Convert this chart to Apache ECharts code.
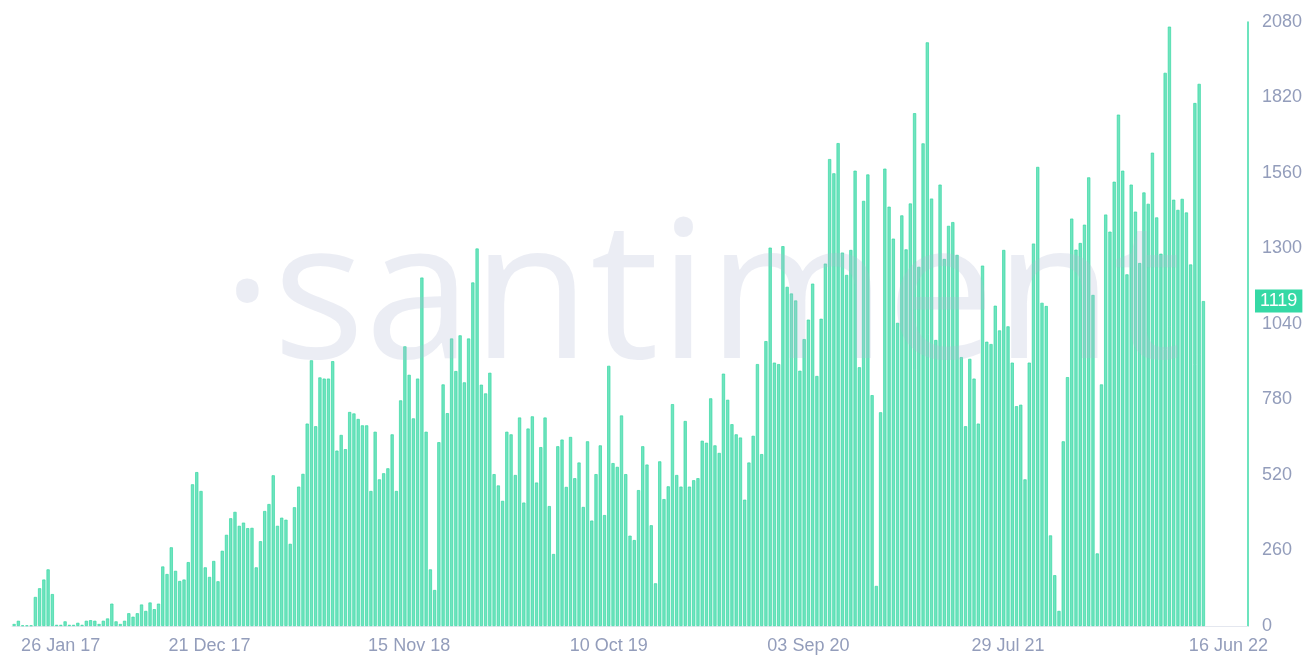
<!DOCTYPE html>
<html><head><meta charset="utf-8">
<script src="https://cdn.jsdelivr.net/npm/echarts@6/dist/echarts.min.js"></script>
<style>html,body{margin:0;padding:0;background:#fff}#c{width:1306px;height:655px}</style>
</head><body><div id="c"></div>
<script>
// weekly bars, first bar week of 02 Feb 2017
const firstWeekUTC = Date.UTC(2017, 1, 2);
const axisStartLabel = '26 Jan 17';
const tickLabels = ['21 Dec 17', '15 Nov 18', '10 Oct 19', '03 Sep 20', '29 Jul 21', '16 Jun 22'];
const yMin = 0, yMax = 2080, yStep = 260;
const lastValue = 1119;
const padWeeks = 10;

const values2017 = [7,18,2,2,2,100,130,160,195,110,4,4,16,4,4,11,4,18,20,18,7,18,26,77,16,7,18,44,32,44,74,52,81,58,77,205,179,271,190,155,160,220,488,530,465,202,169,224,154];
const values2018 = [259,314,371,393,345,356,337,338,202,292,396,420,519,345,373,366,283,409,480,524,697,915,688,856,852,852,912,604,658,609,737,732,713,691,691,465,669,505,526,543,660,465,777,963,865,715,852,1200,669,195];
const values2019 = [124,633,832,733,990,878,1001,839,990,1183,1300,831,801,872,523,484,431,669,660,520,718,425,680,722,494,616,718,413,248,619,642,479,651,509,563,410,636,363,523,622,382,896,561,548,725,523,311,296,468];
const values2020 = [619,556,347,147,567,437,481,764,520,480,706,480,502,509,638,631,784,622,596,869,779,695,660,649,435,563,655,902,592,981,1303,907,902,1308,1168,1145,1121,879,988,1055,1179,861,1058,1248,1608,1559,1663,1286,1209,1295];
const values2021 = [1568,891,1464,1555,795,138,736,1575,1444,1334,1044,1414,1297,1455,1766,1237,1662,2010,1472,985,1520,1264,1378,1391,1278,926,688,920,852,697,1241,979,971,1103,1018,1295,1032,907,757,762,505,907,1317,1581,1113,1102,312,175,52];
const values2022 = [636,857,1403,1296,1319,1382,1545,1140,250,832,1417,1358,1530,1761,1568,1211,1520,1427,1250,1493,1454,1630,1407,1282,1905,2064,1468,1433,1471,1424,1245,1801,1867,1119];

const values = [].concat(values2017, values2018, values2019, values2020, values2021, values2022);
const MONTHS = ['Jan','Feb','Mar','Apr','May','Jun','Jul','Aug','Sep','Oct','Nov','Dec'];
function fmt(t) {
  const d = new Date(t);
  const dd = String(d.getUTCDate()).padStart(2, '0');
  return dd + ' ' + MONTHS[d.getUTCMonth()] + ' ' + String(d.getUTCFullYear()).slice(2);
}
const categories = values.map((v, i) => fmt(firstWeekUTC + i * 7 * 864e5));
for (let k = 0; k < padWeeks; k++) categories.push('pad' + k);
const seriesData = values.slice();
for (let k = 0; k < padWeeks; k++) seriesData.push('-');
const lastIdx = values.length - 1;

const chart = echarts.init(document.getElementById('c'), null, {renderer: 'canvas'});
const labelColor = '#939dbb';
const FONT = 'Liberation Sans, Arial, sans-serif';
chart.setOption({
  animation: false,
  backgroundColor: '#ffffff',
  grid: {left: 12, right: 58, top: 22, bottom: 28, containLabel: false},
  xAxis: {
    type: 'category',
    data: categories,
    boundaryGap: true,
    axisLine: {show: true, lineStyle: {color: '#e4e7ef', width: 1}},
    axisTick: {show: false},
    axisLabel: {
      show: true,
      interval: (idx, val) => idx === 0 || tickLabels.indexOf(val) >= 0,
      formatter: (val, idx) => idx === 0 ? '{first|' + axisStartLabel + '}' : (idx === lastIdx ? '{last|' + val + '}' : val),
      color: labelColor,
      fontSize: 18,
      fontFamily: FONT,
      margin: 11,
      alignMinLabel: 'left',
      hideOverlap: false,
      rich: {
        first: {color: labelColor, fontSize: 18, fontFamily: FONT, padding: [0, 0, 0, 7]},
        last: {color: labelColor, fontSize: 18, fontFamily: FONT, padding: [0, 0, 0, 50]}
      }
    },
    splitLine: {show: false}
  },
  yAxis: {
    type: 'value',
    position: 'right',
    min: yMin, max: yMax, interval: yStep,
    axisLine: {show: true, lineStyle: {color: '#3ddba8', width: 1.5}},
    axisTick: {show: false},
    splitLine: {show: false},
    axisLabel: {color: labelColor, fontSize: 18, fontFamily: FONT, margin: 14, formatter: v => String(v)}
  },
  graphic: [{
    type: 'text',
    z: 100,
    silent: true,
    style: {
      x: 222, y: 303,
      text: '\u00b7santiment',
      fontSize: 193,
      fontFamily: 'Open Sans, Lato, sans-serif',
      fontWeight: 400,
      fill: 'rgba(175,185,212,0.25)',
      verticalAlign: 'middle'
    }
  }],
  series: [{
    type: 'bar',
    data: seriesData,
    barCategoryGap: '25%',
    itemStyle: {color: '#70e4bf', borderColor: '#36d9a4', borderWidth: 0.7},
    markLine: {
      silent: true,
      symbol: 'none',
      lineStyle: {color: 'rgba(0,0,0,0)', width: 0},
      data: [{yAxis: lastValue}],
      label: {
        show: true, position: 'end', distance: 7,
        formatter: String(lastValue),
        color: '#ffffff', backgroundColor: '#35d9a5',
        fontSize: 18, fontFamily: FONT,
        padding: [3, 5, 2, 5]
      }
    }
  }]
});
</script></body></html>
